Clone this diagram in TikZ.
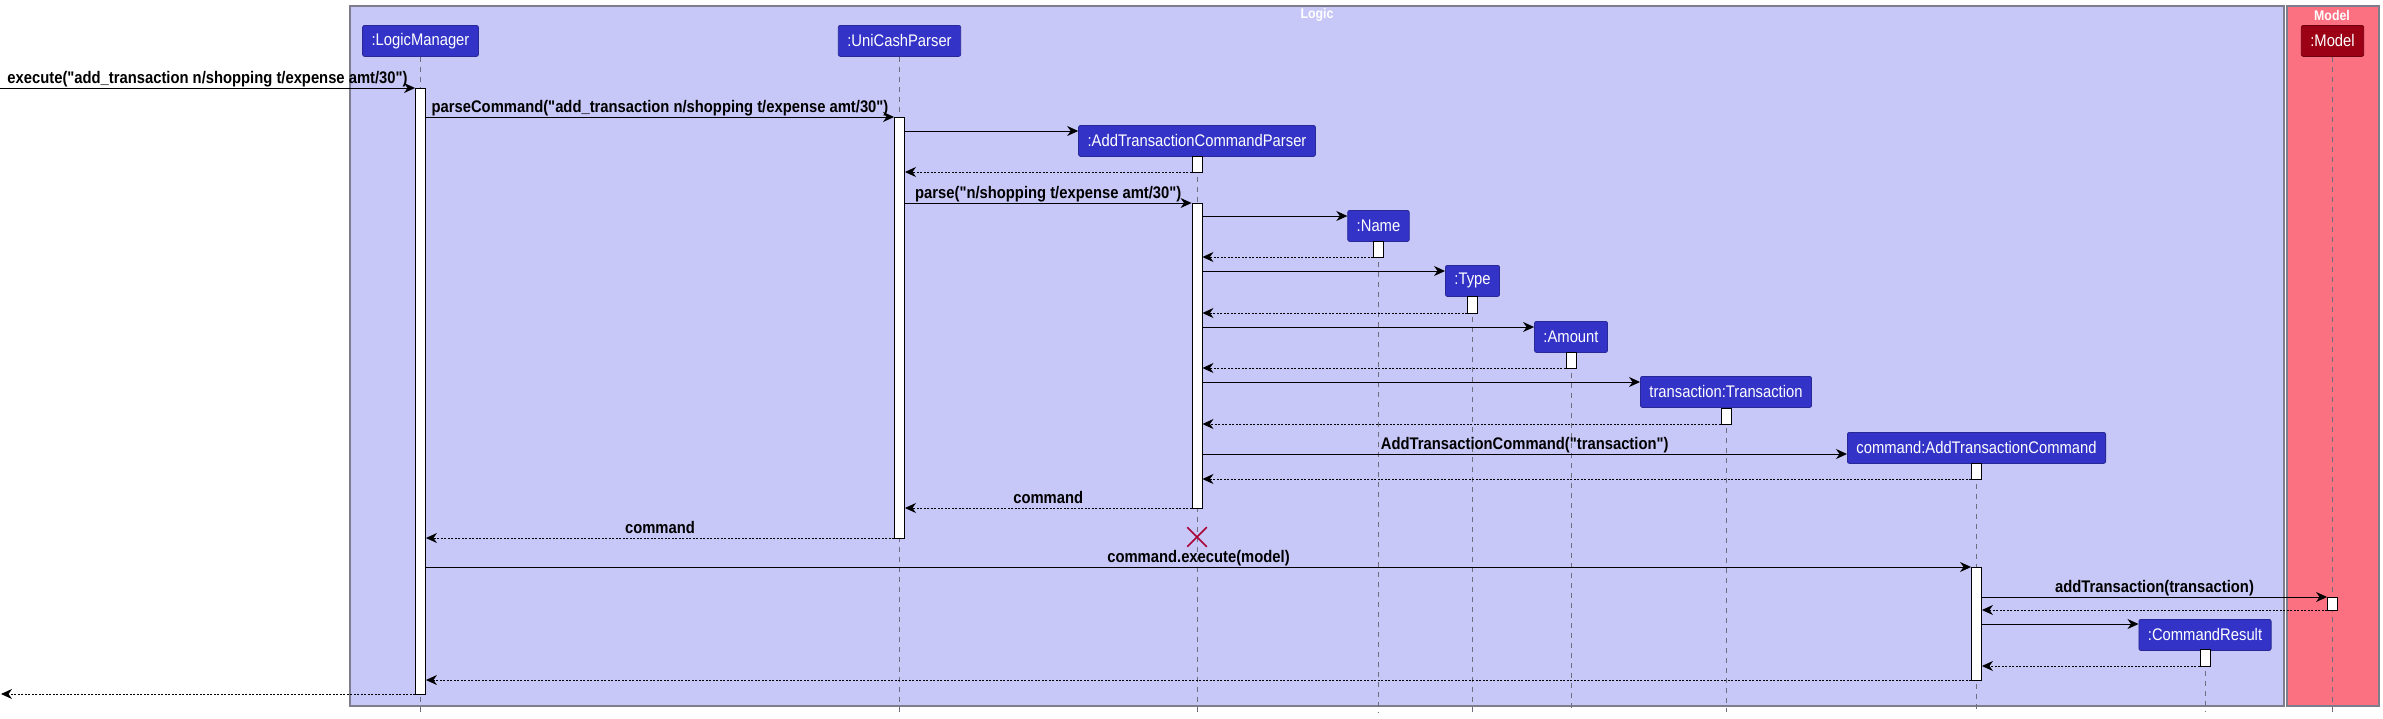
\documentclass[tikz,border=0pt]{standalone}
\usepackage{fontspec}
\setmainfont{Liberation Sans}
\newfontfamily\narrowfont[FakeStretch=0.88]{Liberation Sans}
\usetikzlibrary{arrows.meta,positioning,shapes.misc}
\definecolor{logicBg}{RGB}{200,200,248}
\definecolor{modelBg}{RGB}{252,113,130}
\definecolor{partBlue}{RGB}{51,51,200}
\definecolor{partBlueLine}{RGB}{40,40,150}
\definecolor{modelRed}{RGB}{155,0,20}
\definecolor{modelRedLine}{RGB}{110,0,15}
\definecolor{boxLine}{RGB}{125,125,140}
\definecolor{lifeGray}{RGB}{110,110,125}
\definecolor{destroyRed}{RGB}{168,0,54}
\newcommand{\msgfont}{\narrowfont\bfseries\fontsize{16.8}{18}\selectfont}
\newcommand{\partfont}{\narrowfont\fontsize{16.8}{18}\selectfont}

\begin{document}
\begin{tikzpicture}[x=1pt,y=-1pt,
  part/.style={draw=partBlueLine, fill=partBlue, text=white, rounded corners=2pt,
    minimum height=31pt, inner xsep=9pt, inner ysep=0pt, font=\partfont, line width=0.8pt, anchor=north},
  actbar/.style={draw=black, fill=white, line width=0.9pt, minimum width=10pt, inner sep=0pt},
  lifeline/.style={lifeGray, line width=0.8pt, dash pattern=on 5pt off 5pt},
  msg/.style={line width=1pt, -{Stealth[length=11pt,width=10pt,inset=3.5pt]}},
  ret/.style={msg, line width=0.9pt, dash pattern=on 2pt off 1.5pt},
  lbl/.style={above, inner sep=1pt, text depth=3pt, font=\msgfont},
  boxtitle/.style={text=white, font=\narrowfont\bfseries\fontsize{14}{16}\selectfont, inner sep=0pt}]

\useasboundingbox (0,0) rectangle (2383,718);

% Boxes for the two components
\draw[boxLine, line width=1.2pt, fill=logicBg] (350,6) rectangle (2284,706);
\draw[boxLine, line width=1.2pt, fill=modelBg] (2287,6) rectangle (2379,706);
\node[boxtitle] (logicTitle) at (1317,15) {Logic};
\node[boxtitle] (modelTitle) at (2332,15) {Model};

% Participants
\node[part] (lm) at (420.5,25) {:LogicManager};
\node[part] (ucp) at (899.5,25) {:UniCashParser};
\node[part] (atcp) at (1197,125) {:AddTransactionCommandParser};
\node[part] (name) at (1378.5,210) {:Name};
\node[part] (type) at (1472.5,265) {:Type};
\node[part] (amount) at (1571,321) {:Amount};
\node[part] (trans) at (1726,376) {transaction:Transaction};
\node[part] (atc) at (1976.5,432) {command:AddTransactionCommand};
\node[part] (cr) at (2205,619) {:CommandResult};
\node[part, fill=modelRed, draw=modelRedLine] (model) at (2332.5,25) {:Model};

% Lifelines
\foreach \p in {lm,ucp,atcp,name,type,amount,trans,atc,cr,model} {
  \draw[lifeline] (\p.south) -- (\p.south |- 0,712);
}

% Activation bars (name/lifeline/top/bottom)
\foreach \n/\p/\t/\b in {lmA/lm/88/694, ucpA/ucp/117/538, atcpA/atcp/156/172,
    atcpB/atcp/203/508, nameA/name/241/257, typeA/type/296/313,
    amountA/amount/352/368, transA/trans/408/424, atcA/atc/463/479,
    atcB/atc/567/680, modelA/model/597/610, crA/cr/649/666} {
  \pgfmathsetmacro\mid{(\t+\b)/2}
  \node[actbar, minimum height={\b-\t}] (\n) at (\p.south |- 0,\mid) {};
}

% Free ends of the found message and its reply
\coordinate (entry) at (0,88);
\coordinate (exit) at (1,694);

% Messages
\draw[msg] (entry) -- node[lbl] {execute("add\_transaction n/shopping t/expense amt/30")} (lmA.west |- entry);
\draw[msg] (lmA.east |- 0,117) -- node[lbl] {parseCommand("add\_transaction n/shopping t/expense amt/30")} (ucpA.west |- 0,117);
\draw[msg] (ucpA.east |- 0,131) -- (atcp.west |- 0,131);
\draw[ret] (atcpA.west |- 0,172) -- (ucpA.east |- 0,172);
\draw[msg] (ucpA.east |- 0,203) -- node[lbl] {parse("n/shopping t/expense amt/30")} (atcpB.west |- 0,203);

\draw[msg] (atcpB.east |- 0,216) -- (name.west |- 0,216);
\draw[ret] (nameA.west |- 0,257) -- (atcpB.east |- 0,257);
\draw[msg] (atcpB.east |- 0,271) -- (type.west |- 0,271);
\draw[ret] (typeA.west |- 0,313) -- (atcpB.east |- 0,313);
\draw[msg] (atcpB.east |- 0,327) -- (amount.west |- 0,327);
\draw[ret] (amountA.west |- 0,368) -- (atcpB.east |- 0,368);
\draw[msg] (atcpB.east |- 0,382) -- (trans.west |- 0,382);
\draw[ret] (transA.west |- 0,424) -- (atcpB.east |- 0,424);
\draw[msg] (atcpB.east |- 0,454) -- node[lbl] {AddTransactionCommand("transaction")} (atc.west |- 0,454);
\draw[ret] (atcA.west |- 0,479) -- (atcpB.east |- 0,479);

\draw[ret] (atcpB.west |- 0,508) -- node[lbl] {command} (ucpA.east |- 0,508);
\draw[ret] (ucpA.west |- 0,538) -- node[lbl] {command} (lmA.east |- 0,538);

% Parser is destroyed
\node[cross out, draw=destroyRed, line width=1.5pt, minimum size=18pt, inner sep=0pt] (atcpX) at (atcp.south |- 0,537) {};

\draw[msg] (lmA.east |- 0,567) -- node[lbl] {command.execute(model)} (atcB.west |- 0,567);
\draw[msg] (atcB.east |- 0,597) -- node[lbl] {addTransaction(transaction)} (modelA.west |- 0,597);
\draw[ret] (modelA.west |- 0,610) -- (atcB.east |- 0,610);
\draw[msg] (atcB.east |- 0,624) -- (cr.west |- 0,624);
\draw[ret] (crA.west |- 0,666) -- (atcB.east |- 0,666);
\draw[ret] (atcB.west |- 0,680) -- (lmA.east |- 0,680);
\draw[ret] (lmA.west |- exit) -- (exit);

\end{tikzpicture}
\end{document}
